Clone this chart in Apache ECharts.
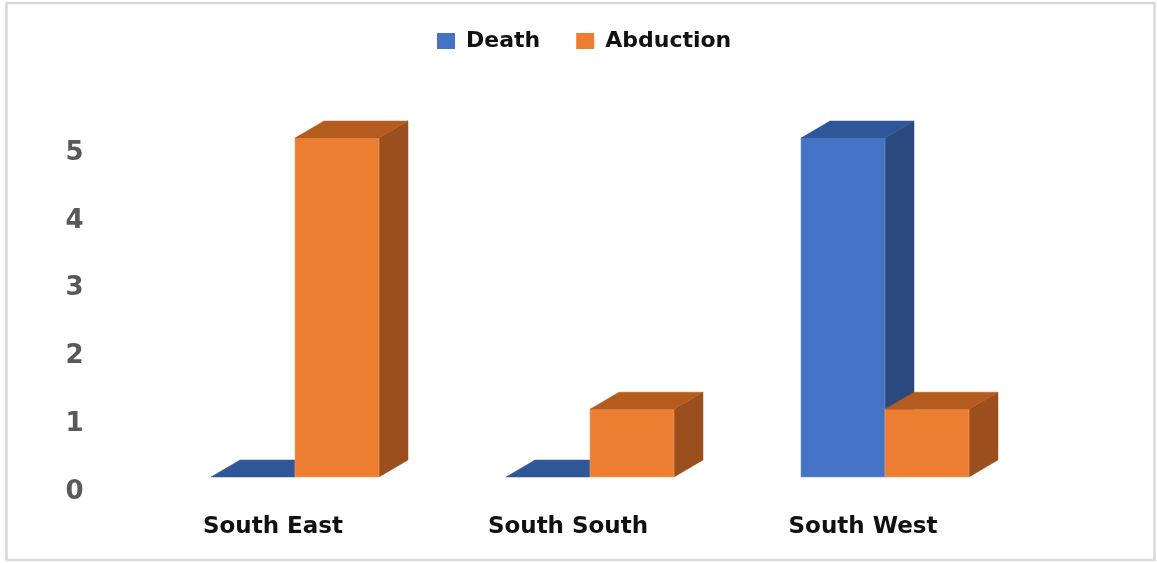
<!DOCTYPE html>
<html>
<head>
<meta charset="utf-8">
<script src="https://cdn.jsdelivr.net/npm/echarts@6/dist/echarts.min.js"></script>
<style>
html,body{margin:0;padding:0;background:#fff;}
#chart{width:1157px;height:563px;}
</style>
</head>
<body>
<div id="chart"></div>
<script>
const categories = ['South East', 'South South', 'South West'];
const seriesNames = ['Death', 'Abduction'];
const deathValues = [0, 0, 5];
const abductionValues = [5, 1, 1];

const BAR_W = 84, DX = 29, DY = 17;
const palettes = [
  { front: '#4472C4', top: '#30569A', side: '#2A4A7F', edge: '#6E93D6' },
  { front: '#ED7D31', top: '#B45C20', side: '#9A4F1D', edge: '#F4A46D' }
];

function makeRender(idx) {
  const pal = palettes[idx];
  return function (params, api) {
    const cat = api.value(0), v = api.value(1);
    const base = api.coord([cat, 0]);
    const top = api.coord([cat, v]);
    const cx = base[0];
    const x0 = idx === 0 ? cx - BAR_W : cx;
    const x1 = x0 + BAR_W;
    const y0 = base[1], y1 = top[1];
    const children = [];
    if (v > 0) {
      children.push({
        type: 'polygon',
        shape: { points: [[x1, y1], [x1 + DX, y1 - DY], [x1 + DX, y0 - DY], [x1, y0]] },
        style: { fill: pal.side, stroke: pal.side, lineWidth: 0.5 }
      });
      children.push({
        type: 'rect',
        shape: { x: x0, y: y1, width: BAR_W, height: y0 - y1 },
        style: { fill: pal.front, stroke: pal.edge, lineWidth: 0.6 }
      });
    }
    children.push({
      type: 'polygon',
      shape: { points: [[x0, y1], [x0 + DX, y1 - DY], [x1 + DX, y1 - DY], [x1, y1]] },
      style: { fill: pal.top, stroke: pal.top, lineWidth: 0.5 }
    });
    return { type: 'group', children: children };
  };
}

const chart = echarts.init(document.getElementById('chart'), null, { renderer: 'canvas' });
chart.setOption({
  animation: false,
  backgroundColor: '#ffffff',
  graphic: [{
    type: 'rect',
    shape: { x: 6.5, y: 3, width: 1148, height: 557 },
    style: { fill: 'none', stroke: '#d9d9d9', lineWidth: 2.5 },
    silent: true
  }],
  legend: {
    left: 432,
    top: 25,
    itemWidth: 18,
    itemHeight: 16,
    itemGap: 36,
    icon: 'rect',
    data: seriesNames,
    textStyle: {
      fontFamily: 'DejaVu Sans',
      fontWeight: 'bold',
      fontSize: 22,
      color: '#111111',
      padding: [0, 0, 0, 6]
    }
  },
  grid: { left: 147.5, right: 124.5, top: 138, bottom: 86, containLabel: false },
  xAxis: {
    type: 'category',
    data: categories,
    axisLine: { show: false },
    axisTick: { show: false },
    splitLine: { show: false },
    axisLabel: {
      margin: 39,
      fontFamily: 'DejaVu Sans',
      fontWeight: 'bold',
      fontSize: 23,
      color: '#111111',
      padding: [0, 44, 0, 0]
    }
  },
  yAxis: {
    type: 'value',
    min: 0,
    max: 5,
    interval: 1,
    axisLine: { show: false },
    axisTick: { show: false },
    splitLine: { show: false },
    axisLabel: {
      margin: 64,
      fontFamily: 'DejaVu Sans',
      fontWeight: 'bold',
      fontSize: 26,
      color: '#595959',
      verticalAlign: 'top',
      lineHeight: 30
    }
  },
  series: [
    {
      name: seriesNames[0],
      type: 'custom',
      renderItem: makeRender(0),
      itemStyle: { color: palettes[0].front },
      encode: { x: 0, y: 1 },
      data: deathValues.map((v, i) => [i, v]),
      clip: false
    },
    {
      name: seriesNames[1],
      type: 'custom',
      renderItem: makeRender(1),
      itemStyle: { color: palettes[1].front },
      encode: { x: 0, y: 1 },
      data: abductionValues.map((v, i) => [i, v]),
      clip: false
    }
  ]
});
</script>
</body>
</html>
